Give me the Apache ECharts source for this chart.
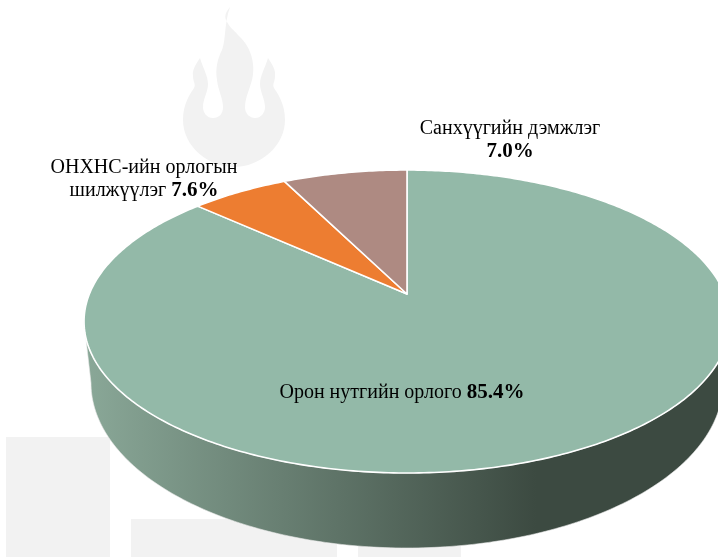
<!DOCTYPE html>
<html><head><meta charset="utf-8">
<style>html,body{margin:0;padding:0;background:#fff}#c{width:718px;height:557px}</style>
<script src="https://cdn.jsdelivr.net/npm/echarts@6/dist/echarts.min.js"></script>
</head><body><div id="c"></div>
<script>
// Slice sizes as drawn in the picture (percent of the full turn, clockwise from 12 o'clock)
const categories = ['Орон нутгийн орлого', 'ОНХНС-ийн орлогын шилжүүлэг', 'Санхүүгийн дэмжлэг'];
const sliceValues = [86.75, 5.85, 7.4];
// Percent text as printed on the chart's labels
const printedPercents = ['85.4%', '7.6%', '7.0%'];
const colors = ['#93b9a8', '#ed7d31', '#ae8a82'];

const chart = echarts.init(document.getElementById('c'), null, {renderer: 'canvas'});
const total = sliceValues.reduce((a, b) => a + b, 0);
const starts = [];
sliceValues.reduce((acc, v, i) => { starts[i] = acc; return acc + v; }, 0);

// Perspective view of the disc: apex (hub) sits above the centre of the rim ellipse
const hub = {x: 407, y: 294, a: 317.6, b: 146.5, k: -0.1815};
function rim(theta) {
  const u = Math.sin(theta), v = -Math.cos(theta), d = 1 + hub.k * v;
  return [hub.x + hub.a * u / d, hub.y + hub.b * v / d];
}
const rimE = {x: 407, y: 321.5, a: 323, b: 151.5};
const base = {x: 407, y: 383, a: 316, b: 165};

function sidePoints() {
  const pts = [];
  for (let i = 0; i <= 180; i++) {
    const t = Math.PI * (i / 180);
    pts.push([rimE.x - rimE.a * Math.cos(t), rimE.y + rimE.b * Math.sin(t)]);
  }
  for (let i = 180; i >= 0; i--) {
    const t = Math.PI * (i / 180);
    pts.push([base.x - base.a * Math.cos(t), base.y + base.b * Math.sin(t)]);
  }
  return pts;
}

const labelLayout = [
  {x: 402, y: 393},
  {x: 144, y: 179},
  {x: 510, y: 140}
];
const labelTexts = [
  '{n|' + categories[0] + ' }{b|' + printedPercents[0] + '}',
  '{n|ОНХНС-ийн орлогын}\n{n|шилжүүлэг }{b|' + printedPercents[1] + '}',
  '{n|' + categories[2] + '}\n{b|' + printedPercents[2] + '}'
];
const rich = {
  n: {fontFamily: 'Liberation Serif', fontSize: 20, lineHeight: 23, fill: '#000'},
  b: {fontFamily: 'Liberation Serif', fontSize: 21, fontWeight: 'bold', lineHeight: 23, fill: '#000'}
};

function renderSlice(params, api) {
  const i = params.dataIndex;
  const v = api.value(0);
  const s = starts[i] / total * 2 * Math.PI;
  const e = (starts[i] + v) / total * 2 * Math.PI;
  const n = Math.max(4, Math.ceil((e - s) / (Math.PI / 240)));
  const pts = [[hub.x, hub.y]];
  for (let j = 0; j <= n; j++) pts.push(rim(s + (e - s) * j / n));
  const children = [];
  if (i === 0) {
    children.push({
      type: 'polygon', shape: {points: sidePoints()},
      style: {
        fill: {type: 'linear', x: 0, y: 0, x2: 1, y2: 0, colorStops: [
          {offset: 0, color: '#8aa898'}, {offset: 0.70, color: '#3c4a41'}, {offset: 1, color: '#3c4a41'}
        ]},
        stroke: '#e8e8e8', lineWidth: 0.6
      }
    });
  }
  children.push({
    type: 'polygon', shape: {points: pts},
    style: {fill: colors[i], stroke: '#ffffff', lineWidth: 1.6, lineJoin: 'round'}
  });
  return {type: 'group', children};
}

function renderLabel(params) {
  const i = params.dataIndex;
  return {
    type: 'text', x: labelLayout[i].x, y: labelLayout[i].y,
    style: {text: labelTexts[i], rich, align: 'center', verticalAlign: 'middle'}
  };
}

const wm = '#f2f2f2';
const flamePath = 'M230 7 C225 13 224 17 227 22 C230 28 234 30 238 35 C244 41 248 46 250 52 C254 62 254 72 252 80 C250 88 245 98 245 107 C245 114 250 118 255 118 C261 118 265 113 265 107 C265 99 260 92 260 84 C260 76 265 68 268 58 C272 64 276 70 275 76 C275 82 272 84 274 88 C278 94 285 104 285 120 C285 146 260 167 234 167 C208 167 183 146 183 120 C183 104 190 94 194 88 C196 84 193 82 193 76 C192 70 196 64 200 58 C203 68 208 76 208 84 C208 92 203 99 203 107 C203 113 207 118 213 118 C219 118 223 114 223 107 C223 98 218 90 217 80 C215 68 218 58 222 50 C226 40 224 24 230 7 Z';
chart.setOption({
  animation: false,
  backgroundColor: '#ffffff',
  graphic: [
    {type: 'rect', silent: true, z: 0, shape: {x: 6, y: 437, width: 104, height: 120}, style: {fill: wm}},
    {type: 'rect', silent: true, z: 0, shape: {x: 131, y: 519, width: 206, height: 38}, style: {fill: wm}},
    {type: 'rect', silent: true, z: 0, shape: {x: 358, y: 546, width: 103, height: 11}, style: {fill: wm}}
  ],
  series: [
    {type: 'custom', coordinateSystem: 'none', z: 1, silent: true, clip: false,
      data: [[0]],
      renderItem: () => ({type: 'path', shape: {pathData: flamePath, x: 183, y: 7, width: 102, height: 160, layout: 'cover'}, style: {fill: wm}})},
    {type: 'custom', coordinateSystem: 'none', z: 2, silent: true, clip: false,
      data: sliceValues.map((v, i) => ({name: categories[i], value: [v]})),
      renderItem: renderSlice},
    {type: 'custom', coordinateSystem: 'none', z: 3, silent: true, clip: false,
      data: sliceValues.map((v, i) => ({name: categories[i], value: [v]})),
      renderItem: renderLabel}
  ]
});
</script></body></html>
